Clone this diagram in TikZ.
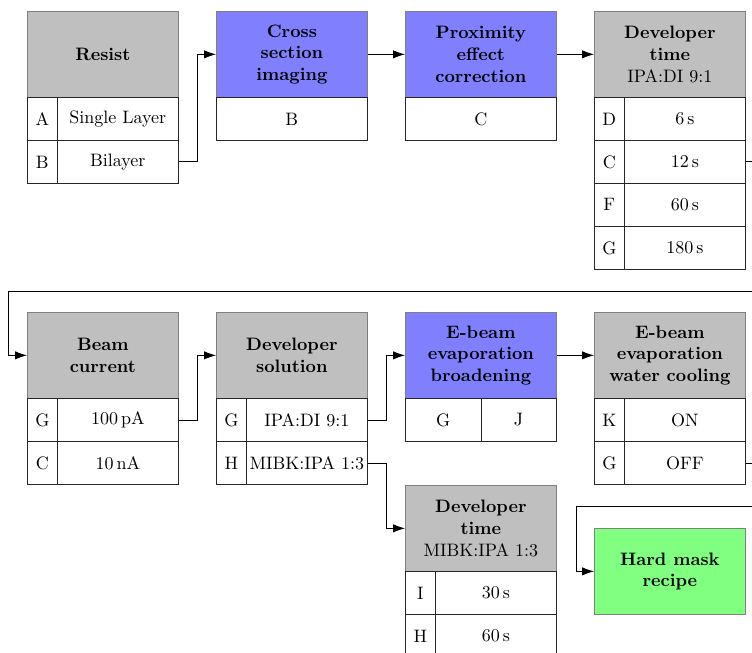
\documentclass[tikz,border=0pt]{standalone}
\usetikzlibrary{arrows.meta}
\newcommand\pxu{0.5556pt}
\begin{document}
\begin{tikzpicture}[x=0.5556pt,y=-0.5556pt,
  hdr/.style={rectangle,draw=gray,fill=gray!50,minimum width=151*\pxu,minimum height=86*\pxu,
    align=center,font=\bfseries,anchor=north west,inner sep=0pt},
  bluehdr/.style={hdr,fill=blue!50},
  greenhdr/.style={hdr,fill=green!50},
  cell/.style={rectangle,draw=black!85,fill=white,minimum height=43*\pxu,anchor=north west,inner sep=0pt},
  kcell/.style={cell,minimum width=30*\pxu},
  vcell/.style={cell,minimum width=121*\pxu},
  fcell/.style={cell,minimum width=151*\pxu},
  hcell/.style={cell,minimum width=75.5*\pxu},
  arr/.style={-{Latex[length=6.6pt,width=4.6pt]},black}
]
\useasboundingbox (0,0) rectangle (752,653);
\clip (0,0) rectangle (752,653);

% Row 1
\node[hdr] (res) at (27,11) {Resist};
\node[kcell] (resAk) at (27,97) {A};
\node[vcell] (resAv) at (57,97) {Single Layer};
\node[kcell] (resBk) at (27,140) {B};
\node[vcell] (resBv) at (57,140) {Bilayer};

\node[bluehdr] (cs) at (216,11) {Cross\\section\\imaging};
\node[fcell] (csB) at (216,97) {B};

\node[bluehdr] (pec) at (405,11) {Proximity\\effect\\correction};
\node[fcell] (pecC) at (405,97) {C};

\node[hdr] (dt1) at (594,11) {Developer\\time\\\mdseries IPA:DI 9:1};
\node[kcell] (dt1Dk) at (594,97) {D};
\node[vcell] (dt1Dv) at (624,97) {6\,s};
\node[kcell] (dt1Ck) at (594,140) {C};
\node[vcell] (dt1Cv) at (624,140) {12\,s};
\node[kcell] (dt1Fk) at (594,183) {F};
\node[vcell] (dt1Fv) at (624,183) {60\,s};
\node[kcell] (dt1Gk) at (594,226) {G};
\node[vcell] (dt1Gv) at (624,226) {180\,s};

% Row 2
\node[hdr] (bc) at (27,312) {Beam\\current};
\node[kcell] (bcGk) at (27,398) {G};
\node[vcell] (bcGv) at (57,398) {100\,pA};
\node[kcell] (bcCk) at (27,441) {C};
\node[vcell] (bcCv) at (57,441) {10\,nA};

\node[hdr] (ds) at (216,312) {Developer\\solution};
\node[kcell] (dsGk) at (216,398) {G};
\node[vcell] (dsGv) at (246,398) {IPA:DI 9:1};
\node[kcell] (dsHk) at (216,441) {H};
\node[vcell] (dsHv) at (246,441) {MIBK:IPA 1:3};

\node[bluehdr] (ebb) at (405,312) {E-beam\\evaporation\\broadening};
\node[hcell] (ebbG) at (405,398) {G};
\node[hcell] (ebbJ) at (480.5,398) {J};

\node[hdr] (ewc) at (594,312) {E-beam\\evaporation\\water cooling};
\node[kcell] (ewcKk) at (594,398) {K};
\node[vcell] (ewcKv) at (624,398) {ON};
\node[kcell] (ewcGk) at (594,441) {G};
\node[vcell] (ewcGv) at (624,441) {OFF};

\node[hdr] (dt2) at (405,485) {Developer\\time\\\mdseries MIBK:IPA 1:3};
\node[kcell] (dt2Ik) at (405,571) {I};
\node[vcell] (dt2Iv) at (435,571) {30\,s};
\node[kcell] (dt2Hk) at (405,614) {H};
\node[vcell] (dt2Hv) at (435,614) {60\,s};

\node[greenhdr] (hm) at (594,528) {Hard mask\\recipe};

% loop coordinates
\coordinate (loopL) at (8,291);
\coordinate (loopM) at (576,506);

% Connectors
\draw[arr] (resBv.east) -- ++(19,0) |- (cs.west);
\draw[arr] (cs.east) -- (pec.west);
\draw[arr] (pec.east) -- (dt1.west);
\draw[arr] (dt1Cv.east) -- ++(24,0) |- (loopL) |- (bc.west);
\draw[arr] (bcGv.east) -- ++(19,0) |- (ds.west);
\draw[arr] (dsGv.east) -- ++(19,0) |- (ebb.west);
\draw[arr] (dsHv.east) -- ++(19,0) |- (dt2.west);
\draw[arr] (ebb.east) -- (ewc.west);
\draw[arr] (ewcGv.east) -- ++(19,0) |- (loopM) |- (hm.west);
\end{tikzpicture}
\end{document}
